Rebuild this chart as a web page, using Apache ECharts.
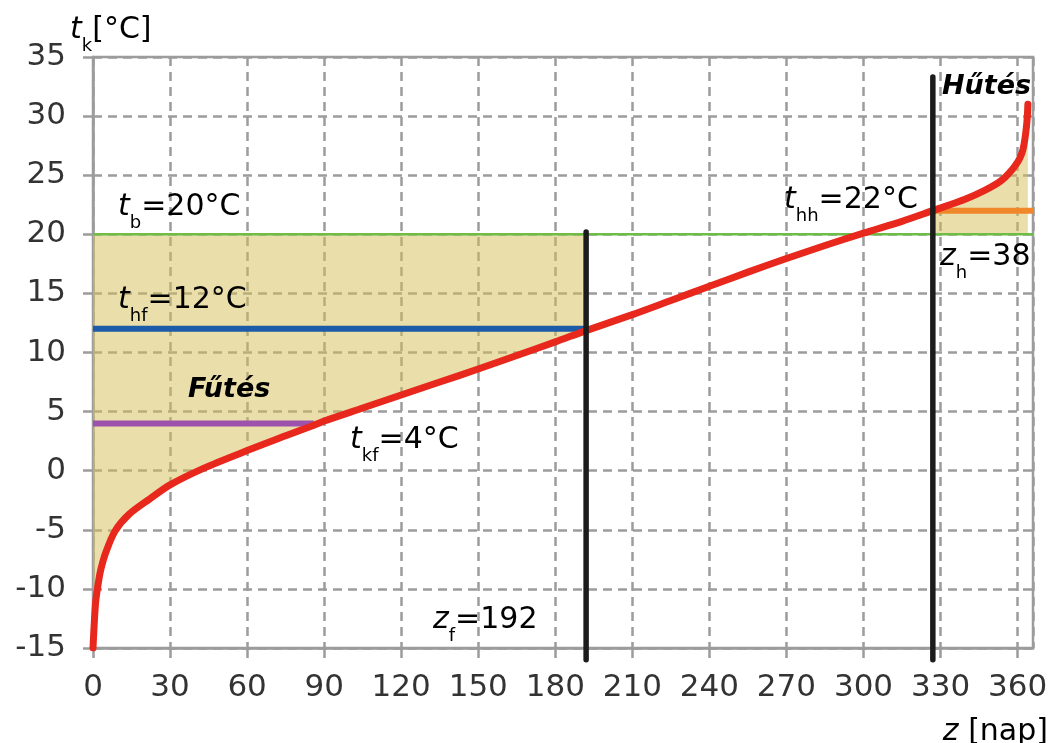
<!DOCTYPE html>
<html><head><meta charset="utf-8">
<script src="https://cdn.jsdelivr.net/npm/echarts@6/dist/echarts.min.js"></script>
<style>html,body{margin:0;padding:0;background:#fff}#c{width:1051px;height:743px}</style>
</head><body><div id="c"></div>
<script>
// ---- data ----
const xTickLabels = [0, 30, 60, 90, 120, 150, 180, 210, 240, 270, 300, 330, 360];
const yTickLabels = [-15, -10, -5, 0, 5, 10, 15, 20, 25, 30, 35];
const curveDays  = [0, 1, 2, 3, 5, 8.6, 14, 22, 30, 43, 60, 75, 86, 90, 105, 120, 135, 150, 165, 180, 192, 210, 225, 240, 255, 270, 285, 300, 315, 327, 335, 340, 347, 352, 355, 358, 360, 361, 362, 362.8, 363.4, 363.8, 364];
const curveTemps = [-15, -11.2, -9.6, -8.4, -6.9, -5.1, -3.7, -2.4, -1.2, 0.2, 1.7, 2.95, 3.85, 4.2, 5.3, 6.4, 7.5, 8.6, 9.75, 10.9, 11.85, 13.2, 14.4, 15.6, 16.8, 17.95, 19.05, 20.1, 21.1, 22.0, 22.6, 23.0, 23.7, 24.3, 24.8, 25.5, 26.1, 26.5, 27.1, 28.0, 29.0, 30.0, 31.0];
const tB = 20, tHf = 12, tKf = 4, tHh = 22;
const zF = 192, zH = 38, yearDays = 365;
const kfEndDay = 86;          // where the t_kf line meets the curve
const axisEndDay = 366;
const zfLineTop = 20.2, hLineTop = 33.3, vLineBottom = -16;

// ---- build ----
const zHStart = yearDays - zH;   // 327
const curve = curveDays.map((d, i) => [d, curveTemps[i]]);
const heatPart = curve.filter(p => p[0] <= zF);
const coolPart = curve.filter(p => p[0] >= zHStart);

const F = 'DejaVu Sans';
const TC = '#333333';
const GRID = '#9c9c9c';
const SMOOTH = 0.3;

const chart = echarts.init(document.getElementById('c'), null, {renderer: 'canvas'});

function hline(data, color, width, z) {
  return {type: 'line', data, showSymbol: false, symbol: 'none', silent: true, z: z || 3,
    lineStyle: {color, width, cap: 'butt'}, animation: false};
}

const rich = {
  n: {fontFamily: F, fontSize: 30, color: TC, lineHeight: 30, verticalAlign: 'top'},
  i: {fontFamily: F, fontSize: 30, fontStyle: 'italic', color: TC, lineHeight: 30, verticalAlign: 'top'},
  s: {fontFamily: F, fontSize: 18, color: TC, lineHeight: 40, verticalAlign: 'bottom'},
  b: {fontFamily: F, fontSize: 27, fontStyle: 'italic', fontWeight: 'bold', color: '#1e1e1e', lineHeight: 28, verticalAlign: 'top'}
};
function label(x, y, text, align) {
  return {type: 'text', z: 50,
    style: {x, y, text, rich, align: align || 'left', verticalAlign: 'top'}};
}
const deg = '°C';

chart.setOption({
  animation: false,
  backgroundColor: '#fff',
  grid: {left: 93, right: 18, top: 57, bottom: 95, show: true, borderColor: GRID, borderWidth: 2.5, backgroundColor: 'transparent'},
  xAxis: {
    type: 'value', min: 0, max: axisEndDay, interval: 30,
    axisLine: {show: true, onZero: false, lineStyle: {color: GRID, width: 2.5}},
    axisTick: {show: true, length: 10, lineStyle: {color: GRID, width: 2.5}},
    axisLabel: {fontFamily: F, fontSize: 31, color: TC, margin: 24, showMaxLabel: false},
    splitLine: {show: true, lineStyle: {color: GRID, width: 2.5, type: [9, 6]}}
  },
  yAxis: {
    type: 'value', min: -15, max: 35, interval: 5,
    axisLine: {show: true, onZero: false, lineStyle: {color: GRID, width: 2.5}},
    axisTick: {show: true, length: 10, lineStyle: {color: GRID, width: 2.5}},
    axisLabel: {fontFamily: F, fontSize: 31, color: TC, margin: 27},
    splitLine: {show: true, lineStyle: {color: GRID, width: 2.5, type: [9, 6]}}
  },
  series: [
    {type: 'line', data: heatPart, showSymbol: false, symbol: 'none', smooth: SMOOTH, z: 1,
      lineStyle: {width: 0, opacity: 0}, areaStyle: {origin: tB, color: 'rgba(214,189,86,0.5)', opacity: 1}},
    {type: 'line', data: coolPart, showSymbol: false, symbol: 'none', smooth: SMOOTH, z: 1,
      lineStyle: {width: 0, opacity: 0}, areaStyle: {origin: tB, color: 'rgba(214,189,86,0.5)', opacity: 1}},
    hline([[0, tB], [axisEndDay, tB]], '#6dbd46', 2.5, 2),
    hline([[0, tHf], [zF, tHf]], '#1b5ba8', 6),
    hline([[0, tKf], [kfEndDay, tKf]], '#9d53ad', 6),
    hline([[zHStart, tHh], [axisEndDay, tHh]], '#f1872b', 6),
    {type: 'line', data: curve, showSymbol: false, symbol: 'none', smooth: SMOOTH, z: 5,
      lineStyle: {color: '#e8271d', width: 7, cap: 'round', join: 'round'}},
    {type: 'line', data: [[zF, zfLineTop], [zF, vLineBottom]], showSymbol: false, symbol: 'none', clip: false, z: 6,
      lineStyle: {color: '#1c1c1c', width: 5.5, cap: 'round'}},
    {type: 'line', data: [[zHStart, hLineTop], [zHStart, vLineBottom]], showSymbol: false, symbol: 'none', clip: false, z: 6,
      lineStyle: {color: '#1c1c1c', width: 5.5, cap: 'round'}}
  ],
  graphic: [
    label(70, 15, '{i|t}{s|k}{n|[°C]}'),
    label(1048, 717, '{i|z}{n| [nap]}', 'right'),
    label(118, 192, '{i|t}{s|b}{n|=' + tB + deg + '}'),
    label(118, 285, '{i|t}{s|hf}{n|=' + tHf + deg + '}'),
    label(188, 376, '{b|Fűtés}'),
    label(350, 425, '{i|t}{s|kf}{n|=' + tKf + deg + '}'),
    label(433, 605, '{i|z}{s|f}{n|=' + zF + '}'),
    label(784, 185, '{i|t}{s|hh}{n|=' + tHh + deg + '}'),
    label(942, 73, '{b|Hűtés}'),
    label(940, 242, '{i|z}{s|h}{n|=' + zH + '}')
  ]
});
</script></body></html>
